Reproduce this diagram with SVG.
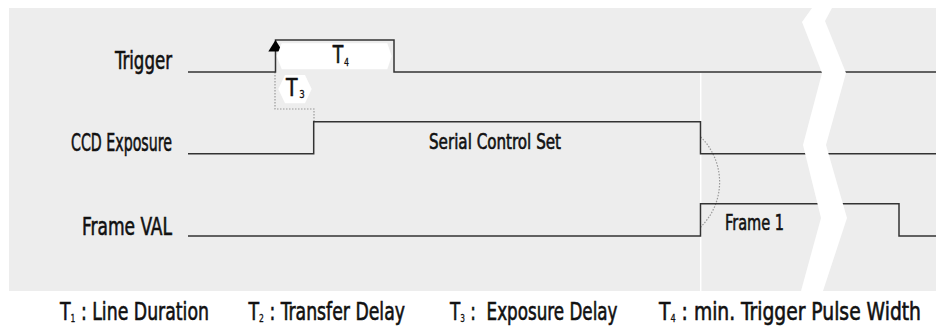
<svg xmlns="http://www.w3.org/2000/svg" width="936" height="326" viewBox="0 0 936 326">
<style>
text{font-family:"Liberation Sans Narrow","DejaVu Sans Condensed","Liberation Sans",sans-serif;fill:#111;stroke:#111;stroke-width:0.6;white-space:pre}
.lbl{font-size:25px}
.sub{font-size:11px;stroke-width:0.3}
.sig{fill:none;stroke:#333;stroke-width:1.5}
.dot{fill:none;stroke:#9a9a9a;stroke-width:1.2;stroke-dasharray:1.5 1.5}
</style>
<rect x="9" y="8" width="927" height="283" fill="#ededed"/>
<line x1="700.7" y1="73" x2="700.7" y2="291" stroke="#fff" stroke-width="1.5"/>
<g id="labels">
<text class="lbl" x="172" y="69" text-anchor="end" textLength="57" lengthAdjust="spacingAndGlyphs">Trigger</text>
<text class="lbl" x="172" y="150.7" text-anchor="end" textLength="101" lengthAdjust="spacingAndGlyphs">CCD Exposure</text>
<text class="lbl" x="172" y="235" text-anchor="end" textLength="90" lengthAdjust="spacingAndGlyphs">Frame VAL</text>
</g>
<g id="connectors">
<polyline class="dot" points="275,72 275,109 314,109 314,121.7"/>
<path class="dot" d="M700.7,137 A63,63 0 0 1 700.7,227"/>
<polyline class="sig" points="188,72 275.5,72 275.5,40 394,40 394,72 936,72"/>
<polyline class="sig" points="188,153.7 313.7,153.7 313.7,121.7 700.5,121.7 700.5,153.7 936,153.7"/>
<polyline class="sig" points="188,236 700.5,236 700.5,203.7 899,203.7 899,236 936,236"/>
<polygon points="275.5,40 268.3,51.5 282.7,51.5" fill="#000"/>
</g>
<g id="t4">
<polygon points="276.7,56 281.7,43.3 387.3,43.3 391.7,56 387.3,69.3 281.7,69.3" fill="#fff"/>
<text x="332.7" y="63.3" font-size="24" textLength="10.5" lengthAdjust="spacingAndGlyphs">T</text>
<text class="sub" x="344" y="66" textLength="5" lengthAdjust="spacingAndGlyphs">4</text>
</g>
<g id="t3">
<polygon points="278.3,89 285,75 305,75 311.7,89 305,103.3 285,103.3" fill="#fff"/>
<text x="286" y="96" font-size="25" textLength="11.5" lengthAdjust="spacingAndGlyphs">T</text>
<text class="sub" x="299.3" y="98.3" textLength="5.5" lengthAdjust="spacingAndGlyphs">3</text>
</g>
<g id="serial-control-set">
<text x="429" y="149" font-size="21" textLength="132" lengthAdjust="spacingAndGlyphs">Serial Control Set</text>
</g>
<g id="frame1">
<text x="725" y="230" font-size="22" textLength="59" lengthAdjust="spacingAndGlyphs">Frame 1</text>
</g>
<polygon id="break" fill="#fff" points="812,8 832,8 825,21 846,73 826,145 847,218 823,291 801,291 821,218 803,145 822,73 802,22"/>
<g id="legend">
<text class="lbl" x="60" y="320" textLength="149" lengthAdjust="spacingAndGlyphs">T<tspan class="sub" dy="2">1</tspan><tspan dy="-2"> : Line Duration</tspan></text>
<text class="lbl" x="248.5" y="320" textLength="156.5" lengthAdjust="spacingAndGlyphs">T<tspan class="sub" dy="2">2</tspan><tspan dy="-2"> : Transfer Delay</tspan></text>
<text class="lbl" x="450" y="320" textLength="167.5" lengthAdjust="spacingAndGlyphs">T<tspan class="sub" dy="2">3</tspan><tspan dy="-2"> :  Exposure Delay</tspan></text>
<text class="lbl" x="659" y="320" textLength="262" lengthAdjust="spacingAndGlyphs">T<tspan class="sub" dy="2">4</tspan><tspan dy="-2"> : min. Trigger Pulse Width</tspan></text>
</g>
</svg>
